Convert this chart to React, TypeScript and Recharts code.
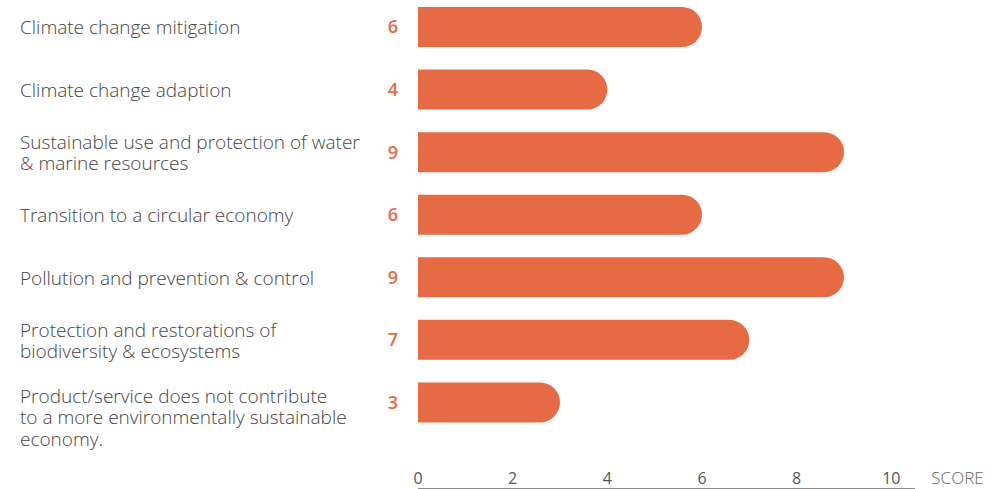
import { BarChart, Bar, XAxis, YAxis, LabelList } from "recharts";

const categories = [
  "Climate change mitigation",
  "Climate change adaption",
  "Sustainable use and protection of water\n& marine resources",
  "Transition to a circular economy",
  "Pollution and prevention & control",
  "Protection and restorations of\nbiodiversity & ecosystems",
  "Product/service does not contribute\nto a more environmentally sustainable\neconomy.",
];
const scores = [6, 4, 9, 6, 9, 7, 3];
const xTicks = [0, 2, 4, 6, 8, 10];
const axisTitle = "SCORE";

const data = categories.map((name, i) => ({ name, score: scores[i] }));

const ORANGE = "#E66A44";
const FONT = "'Open Sans', sans-serif";

function CategoryTick(props: any) {
  const { y, payload } = props;
  const lines = String(payload.value).split("\n");
  // two-line labels sit centred on the bar, the three-line one starts a bit lower
  const top = y - (lines.length === 2 ? 10.5 : lines.length > 2 ? 7 : 0);
  return (
    <text
      x={20}
      y={top}
      fill="#444"
      fontSize={19}
      fontFamily={FONT}
      fontWeight={300}
      dominantBaseline="central"
    >
      {lines.map((l, i) => (
        <tspan key={i} x={20} y={top + i * 21.5}>
          {l}
        </tspan>
      ))}
    </text>
  );
}

function ScoreTick(props: any) {
  const { x, y, payload } = props;
  const last = payload.value === xTicks[xTicks.length - 1];
  const baseline = y - 13;
  return (
    <g>
      <text
        x={x}
        y={baseline}
        textAnchor="middle"
        fill="#555"
        fontSize={16}
        fontFamily={FONT}
      >
        {payload.value}
      </text>
      {last && (
        <text
          x={x + 40}
          y={baseline}
          fill="#666"
          fontSize={17}
          fontFamily={FONT}
          fontWeight={300}
        >
          {axisTitle}
        </text>
      )}
    </g>
  );
}

export default function App() {
  return (
    <div style={{ position: "absolute", left: 0, top: -4, width: 1005, height: 493 }}>
      <BarChart
        width={1005}
        height={493}
        data={data}
        layout="vertical"
        margin={{ top: 0, right: 90, left: 0, bottom: -1 }}
      >
        <XAxis
          type="number"
          domain={[0, 10.5]}
          ticks={xTicks}
          height={1}
          tickLine={false}
          axisLine={{ stroke: "#666", strokeWidth: 1.5 }}
          tick={<ScoreTick />}
          interval={0}
        />
        <YAxis
          type="category"
          dataKey="name"
          width={418}
          axisLine={false}
          tickLine={false}
          padding={{ top: 0, bottom: 55 }}
          tick={<CategoryTick />}
          interval={0}
        />
        <Bar
          dataKey="score"
          fill={ORANGE}
          barSize={40}
          radius={[0, 20, 20, 0]}
          isAnimationActive={false}
        >
          <LabelList
            dataKey="score"
            position="left"
            offset={20}
            fill={ORANGE}
            fontSize={18}
            fontFamily={FONT}
            fontWeight={600}
          />
        </Bar>
      </BarChart>
    </div>
  );
}
